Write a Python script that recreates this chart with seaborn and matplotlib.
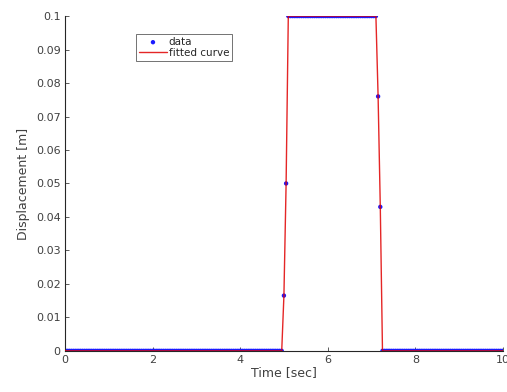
import numpy as np
import pandas as pd
import matplotlib
matplotlib.use("Agg")
import matplotlib.pyplot as plt
import seaborn as sns

# Sampled signal: time grid and displacement levels
time_sec = np.round(np.arange(0, 10.0001, 0.05), 2)
baseline = 0.0
plateau = 0.1
plateau_start, plateau_end = 5.1, 7.1
# transition samples (time, displacement)
rise_t = [5.0, 5.05]
rise_y = [0.0165, 0.050]
fall_t = [7.15, 7.2]
fall_y = [0.076, 0.043]

disp = np.full(time_sec.shape, baseline)
disp[(time_sec >= plateau_start) & (time_sec <= plateau_end)] = plateau
for t, y in zip(rise_t + fall_t, rise_y + fall_y):
    disp[np.isclose(time_sec, t)] = y

df = pd.DataFrame({"t": time_sec, "d": disp})

sns.set_style("white")
plt.rcParams["font.family"] = ["DejaVu Sans"]

fig = plt.figure(figsize=(5.07, 3.92), dpi=100)
ax = fig.add_axes([0.128, 0.105, 0.864, 0.854])

sns.scatterplot(data=df, x="t", y="d", ax=ax, color="#1a1aff", s=10,
                marker="o", edgecolor="none", label="data", zorder=2)
sns.lineplot(data=df, x="t", y="d", ax=ax, color="#e00000", linewidth=1.0,
             alpha=0.85, label="fitted curve", zorder=3)

ax.set_xlim(0, 10)
ax.set_ylim(0, 0.1)
ax.set_xticks(np.arange(0, 11, 2))
ax.set_yticks(np.round(np.arange(0, 0.1001, 0.01), 2))
ax.set_yticklabels(["0"] + [f"{v:g}" for v in np.round(np.arange(0.01, 0.1001, 0.01), 2)])
ax.set_xlabel("Time [sec]", fontsize=9, color="#404040", labelpad=1)
ax.set_ylabel("Displacement [m]", fontsize=9, color="#404040", labelpad=4)

for side in ["top", "right"]:
    ax.spines[side].set_visible(False)
for side in ["left", "bottom"]:
    ax.spines[side].set_color("#262626")
    ax.spines[side].set_linewidth(0.8)
ax.tick_params(direction="in", length=3, width=0.6, colors="#404040",
               labelsize=8, left=True, bottom=True, pad=3)

leg = ax.legend(loc="upper left", bbox_to_anchor=(0.163, 0.947), fontsize=7.5,
                frameon=True, fancybox=False, borderpad=0.3, labelspacing=0.1,
                handlelength=2.6, handletextpad=0.2, borderaxespad=0)
leg.get_frame().set_edgecolor("#333333")
leg.get_frame().set_linewidth(0.6)

fig.savefig("out.png", dpi=100)
